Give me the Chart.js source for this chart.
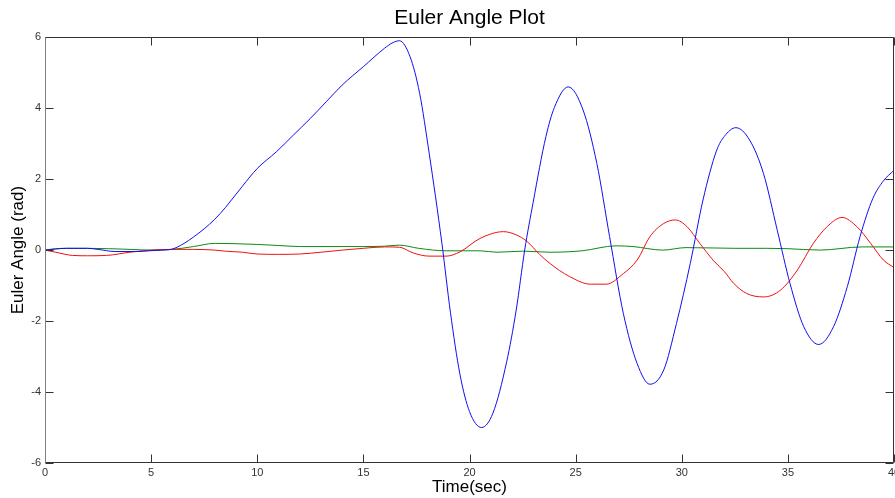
<!DOCTYPE html>
<html>
<head>
    <title>Euler Angle Plot</title>
    <script src="https://cdn.jsdelivr.net/npm/chart.js"></script>
    <style>
        body { margin: 0; background: #fff; }
    </style>
</head>
<body>
    <canvas id="myChart" width="895" height="498"></canvas>
    <script>
        // axis ticks
        const timeTicks = [0, 5, 10, 15, 20, 25, 30, 35, 40];
        const angleTicks = [-6, -4, -2, 0, 2, 4, 6];

        // blue angle (rad) vs time (sec)
        const blueTime = [0, 0.5, 1, 2, 2.5, 3.3, 4.4, 4.9, 5.5, 6,
            6.5, 7, 7.5, 8, 8.5, 9.3, 10, 10.9, 11.7, 12.5,
            13.25, 14, 15, 16, 16.4, 16.7, 17.2, 17.65, 18.1, 18.7,
            19.1, 19.55, 20, 20.57, 21.1, 21.75, 22.2, 22.6, 23, 23.6,
            24, 24.65, 25.35, 26, 26.6, 27.25, 27.9, 28.5, 29.15, 29.75,
            30.4, 31, 31.65, 32, 32.55, 33.2, 33.85, 34.5, 35.1, 35.75,
            36.45, 37.15, 37.8, 38.4, 39, 39.5, 40];
        const blueAngle = [0, 0.03, 0.05, 0.05, 0.02, -0.04, -0.04, -0.02, 0, 0.03,
            0.17, 0.37, 0.6, 0.87, 1.2, 1.8, 2.3, 2.77, 3.24, 3.71,
            4.18, 4.65, 5.17, 5.69, 5.85, 5.9, 5.45, 4.42, 2.73, 0.19,
            -1.75, -3.5, -4.55, -5.0, -4.6, -3.15, -1.69, 0.0, 1.35, 3.2,
            4.02, 4.6, 3.95, 2.44, 0.38, -1.79, -3.2, -3.78, -3.38, -2.07,
            -0.38, 1.41, 2.82, 3.2, 3.45, 3.1, 2.16, 0.56, -0.94, -2.16,
            -2.66, -2.16, -1.03, 0.38, 1.45, 1.95, 2.25];

        // red
        const redTime = [0, 0.5, 1.3, 2, 2.9, 4, 5, 6, 7, 8,
            8.5, 9.3, 10, 11, 12, 13, 14, 15, 16, 16.7,
            17.35, 18.1, 18.9, 19.55, 20.5, 21.6, 22.2, 22.7, 23.3, 23.8,
            24.7, 25.7, 26.45, 27.25, 27.9, 28.5, 29.15, 29.7, 30.25, 30.85,
            31.5, 32, 32.45, 33.05, 33.85, 34.65, 35.45, 36.2, 36.85, 37.55,
            38.25, 38.9, 39.5, 40];
        const redAngle = [0, -0.06, -0.15, -0.16, -0.15, -0.06, 0, 0.02, 0.02, 0,
            -0.03, -0.06, -0.11, -0.12, -0.11, -0.06, 0, 0.05, 0.09, 0.08,
            -0.08, -0.17, -0.17, -0.05, 0.33, 0.52, 0.43, 0.25, -0.12, -0.38,
            -0.74, -0.96, -0.96, -0.66, -0.28, 0.38, 0.75, 0.85, 0.66, 0.19,
            -0.3, -0.6, -0.94, -1.22, -1.32, -1.13, -0.56, 0.19, 0.66, 0.92,
            0.66, 0.19, -0.28, -0.49];

        // green
        const greenTime = [0, 0.5, 1, 2, 3, 4, 5, 6, 7, 8,
            9, 10, 11, 12, 13, 14, 15, 16, 16.7, 17.6,
            18.9, 20.5, 21.3, 22.5, 23.8, 25.3, 26.9, 27.7, 29.1, 30.2,
            31.5, 32.5, 34, 35, 36.5, 38.5, 40];
        const greenAngle = [0, 0.04, 0.05, 0.05, 0.04, 0.02, 0, 0.02, 0.1, 0.19,
            0.18, 0.16, 0.13, 0.1, 0.1, 0.1, 0.1, 0.11, 0.14, 0.05,
            -0.02, -0.02, -0.06, -0.03, -0.06, -0.02, 0.12, 0.1, 0.0, 0.07,
            0.06, 0.05, 0.05, 0.04, 0.0, 0.09, 0.09];

        const FONT = "'Liberation Sans', Arial, Helvetica, sans-serif";

        function points(ts, vs) {
            return ts.map((t, i) => ({ x: t, y: vs[i] }));
        }

        // box around the plot with tick marks pointing inwards
        const frame = {
            id: 'frame',
            afterDraw(chart) {
                const { ctx, chartArea: a, scales: { x, y } } = chart;
                const len = 8;
                const L = Math.round(a.left) + 0.5, R = Math.round(a.right) - 0.5;
                const T = Math.round(a.top) + 0.5, B = Math.round(a.bottom) - 0.5;
                ctx.save();
                ctx.lineWidth = 1;
                ctx.strokeStyle = '#333';
                ctx.beginPath();
                x.ticks.forEach(t => {
                    const px = Math.round(x.getPixelForValue(t.value)) + 0.5;
                    ctx.moveTo(px, B); ctx.lineTo(px, B - len);
                    ctx.moveTo(px, T); ctx.lineTo(px, T + len);
                });
                y.ticks.forEach(t => {
                    const py = Math.round(y.getPixelForValue(t.value)) + 0.5;
                    ctx.moveTo(L, py); ctx.lineTo(L + len, py);
                    ctx.moveTo(R, py); ctx.lineTo(R - len, py);
                });
                ctx.moveTo(L, T); ctx.lineTo(R, T); ctx.lineTo(R, B); ctx.lineTo(L, B);
                ctx.stroke();
                ctx.strokeStyle = '#808080';
                ctx.beginPath();
                ctx.moveTo(L, T); ctx.lineTo(L, B);
                ctx.stroke();
                ctx.restore();
            }
        };

        const ctx = document.getElementById('myChart').getContext('2d');
        new Chart(ctx, {
            type: 'line',
            data: {
                datasets: [
                    { label: 'blue', data: points(blueTime, blueAngle), borderColor: '#1010f0' },
                    { label: 'red', data: points(redTime, redAngle), borderColor: '#f01010' },
                    { label: 'green', data: points(greenTime, greenAngle), borderColor: '#108a10' }
                ]
            },
            options: {
                responsive: false,
                animation: false,
                layout: { padding: { left: 0, right: 1, top: 0, bottom: 0 } },
                elements: {
                    point: { radius: 0 },
                    line: { borderWidth: 1, cubicInterpolationMode: 'monotone', fill: false }
                },
                plugins: {
                    legend: { display: false },
                    tooltip: { enabled: false },
                    title: {
                        display: true,
                        text: 'Euler Angle Plot',
                        fullSize: false,
                        color: '#000',
                        font: { family: FONT, size: 21, weight: 'normal' },
                        padding: { top: 6, bottom: 6 }
                    }
                },
                scales: {
                    x: {
                        type: 'linear',
                        min: 0, max: 40,
                        afterBuildTicks: s => { s.ticks = timeTicks.map(v => ({ value: v })); },
                        grid: { display: false, drawTicks: false },
                        border: { display: false },
                        ticks: { color: '#333', font: { family: FONT, size: 11 }, padding: 3, maxRotation: 0, autoSkip: false },
                        title: { display: true, text: 'Time(sec)', color: '#000', font: { family: FONT, size: 17 }, padding: 0 },
                        afterFit: s => { s.height = 35; s.paddingLeft = 0; s.paddingRight = 0; }
                    },
                    y: {
                        min: -6, max: 6,
                        afterBuildTicks: s => { s.ticks = angleTicks.map(v => ({ value: v })); },
                        grid: { display: false, drawTicks: false },
                        border: { display: false },
                        ticks: { color: '#333', font: { family: FONT, size: 11 }, padding: 4 },
                        title: { display: true, text: 'Euler Angle (rad)', color: '#000', font: { family: FONT, size: 17 }, padding: { top: 8, bottom: 0 } },
                        afterFit: s => { s.width = 45; s.paddingTop = 0; s.paddingBottom = 0; }
                    }
                }
            },
            plugins: [frame]
        });
    </script>
</body>
</html>
